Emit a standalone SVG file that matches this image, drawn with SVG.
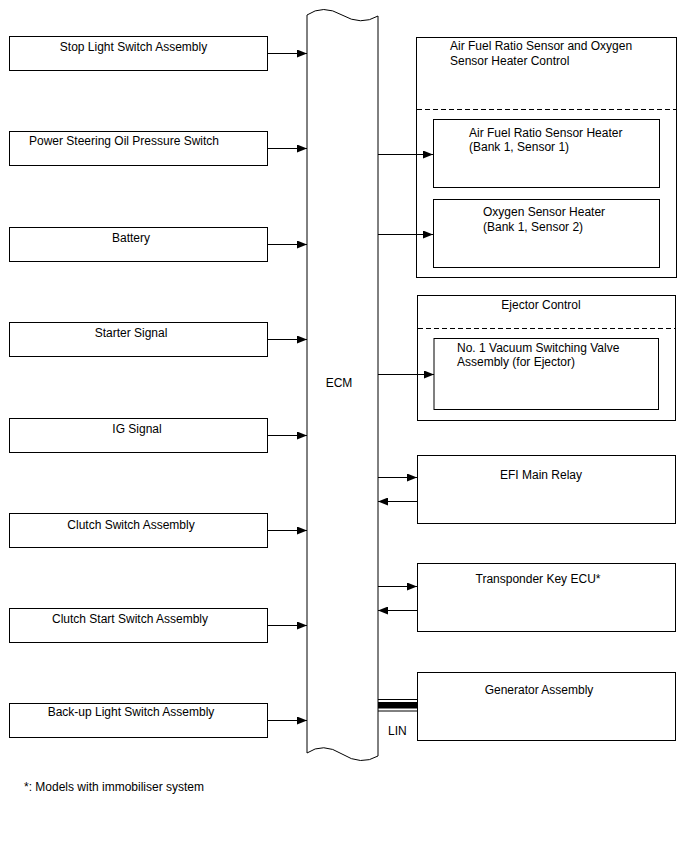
<svg xmlns="http://www.w3.org/2000/svg" width="688" height="852" viewBox="0 0 688 852">
<defs>
<marker id="ah" markerWidth="10" markerHeight="8" refX="10" refY="4" orient="auto" markerUnits="userSpaceOnUse">
<path d="M0,0 L10,4 L0,8 Z" fill="#000"/>
</marker>
<style>
.box{fill:#fff;stroke:#000;stroke-width:1}
.t{font-family:"Liberation Sans",Arial,sans-serif;font-size:12px;fill:#000}
.m{text-anchor:middle}
.c{stroke:#000;stroke-width:1;fill:none}
.a{marker-end:url(#ah)}
.d{stroke:#000;stroke-width:1;stroke-dasharray:5,3}
</style>
</defs>
<rect width="688" height="852" fill="#fff"/>

<g id="ecm">
<path class="box" d="M307,15 Q323,4 342,15 T378,16 L378,756 Q361,766 342,754 Q323,742 307,753 Z"/>
<text class="t m" x="339" y="387">ECM</text>
</g>

<g id="stop-light"><rect class="box" x="9.5" y="36.5" width="258" height="34"/><text class="t m" x="133.5" y="51">Stop Light Switch Assembly</text></g>
<g id="power-steering"><rect class="box" x="9.5" y="131.5" width="258" height="34"/><text class="t m" x="124" y="145">Power Steering Oil Pressure Switch</text></g>
<g id="battery"><rect class="box" x="9.5" y="227.5" width="258" height="34"/><text class="t m" x="131" y="242">Battery</text></g>
<g id="starter"><rect class="box" x="9.5" y="322.5" width="258" height="34"/><text class="t m" x="131" y="337">Starter Signal</text></g>
<g id="ig"><rect class="box" x="9.5" y="418.5" width="258" height="34"/><text class="t m" x="137" y="433">IG Signal</text></g>
<g id="clutch-switch"><rect class="box" x="9.5" y="513.5" width="258" height="34"/><text class="t m" x="131" y="529">Clutch Switch Assembly</text></g>
<g id="clutch-start"><rect class="box" x="9.5" y="608.5" width="258" height="34"/><text class="t m" x="130" y="623">Clutch Start Switch Assembly</text></g>
<g id="backup-light"><rect class="box" x="9.5" y="703.5" width="258" height="34"/><text class="t m" x="131" y="716">Back-up Light Switch Assembly</text></g>

<g id="afr-control">
<rect class="box" x="416.5" y="37.5" width="260" height="240"/>
<text class="t" x="450" y="50">Air Fuel Ratio Sensor and Oxygen</text>
<text class="t" x="450" y="65">Sensor Heater Control</text>
<line class="d" x1="417" y1="109.5" x2="676" y2="109.5"/>
</g>
<g id="afr-heater"><rect class="box" x="433.5" y="119.5" width="226" height="68"/><text class="t" x="469" y="137">Air Fuel Ratio Sensor Heater</text><text class="t" x="469" y="151">(Bank 1, Sensor 1)</text></g>
<g id="o2-heater"><rect class="box" x="433.5" y="199.5" width="226" height="68"/><text class="t" x="483" y="216">Oxygen Sensor Heater</text><text class="t" x="483" y="231">(Bank 1, Sensor 2)</text></g>

<g id="ejector-control">
<rect class="box" x="417.5" y="295.5" width="258" height="125"/>
<text class="t m" x="541" y="309">Ejector Control</text>
<line class="d" x1="418" y1="328.5" x2="675" y2="328.5"/>
</g>
<g id="vsv"><rect class="box" x="434" y="338.5" width="224.5" height="71"/><text class="t" x="457" y="352">No. 1 Vacuum Switching Valve</text><text class="t" x="457" y="366">Assembly (for Ejector)</text></g>

<g id="efi-relay"><rect class="box" x="417.5" y="455.5" width="258" height="68"/><text class="t m" x="541" y="479">EFI Main Relay</text></g>
<g id="transponder"><rect class="box" x="417.5" y="563.5" width="258" height="68"/><text class="t m" x="538" y="583">Transponder Key ECU*</text></g>
<g id="generator"><rect class="box" x="417.5" y="672.5" width="258" height="68"/><text class="t m" x="539" y="694">Generator Assembly</text></g>

<g id="connectors">
<line class="c a" x1="268" y1="53.5" x2="307" y2="53.5"/>
<line class="c a" x1="268" y1="148.5" x2="307" y2="148.5"/>
<line class="c a" x1="268" y1="244.5" x2="307" y2="244.5"/>
<line class="c a" x1="268" y1="339.5" x2="307" y2="339.5"/>
<line class="c a" x1="268" y1="435.5" x2="307" y2="435.5"/>
<line class="c a" x1="268" y1="530.5" x2="307" y2="530.5"/>
<line class="c a" x1="268" y1="625.5" x2="307" y2="625.5"/>
<line class="c a" x1="268" y1="720.5" x2="307" y2="720.5"/>
<line class="c a" x1="378" y1="154.5" x2="433" y2="154.5"/>
<line class="c a" x1="378" y1="234.5" x2="433" y2="234.5"/>
<line class="c a" x1="378" y1="374.5" x2="434" y2="374.5"/>
<line class="c a" x1="378" y1="477.5" x2="417" y2="477.5"/>
<line class="c a" x1="417" y1="501.5" x2="378" y2="501.5"/>
<line class="c a" x1="378" y1="586.5" x2="417" y2="586.5"/>
<line class="c a" x1="417" y1="610.5" x2="378" y2="610.5"/>
<line class="c" x1="378" y1="699.5" x2="417" y2="699.5"/>
<rect x="378" y="702" width="39" height="6.5" fill="#000"/>
<line class="c" x1="378" y1="711" x2="417" y2="711"/>
</g>
<text class="t" x="388" y="735">LIN</text>
<text class="t" x="24" y="791">*: Models with immobiliser system</text>
</svg>
